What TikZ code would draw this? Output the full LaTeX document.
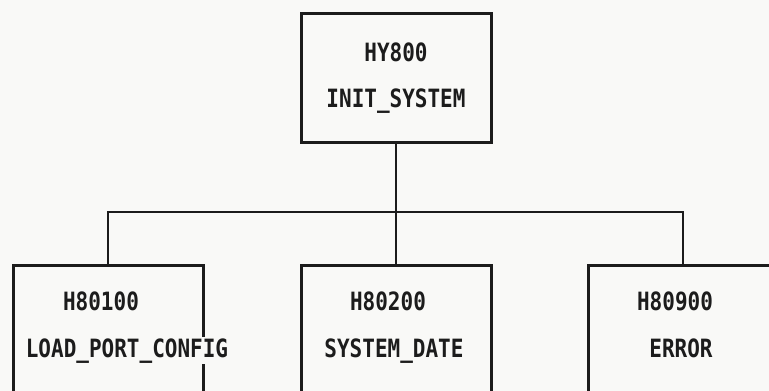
\documentclass[tikz,border=0pt]{standalone}
\usepackage{fontspec}
\newfontfamily\dotfont{DejaVu Sans Mono}
\usetikzlibrary{positioning}
\definecolor{paper}{RGB}{249,249,247}
\definecolor{ink}{RGB}{28,28,28}
\newcommand{\tallcode}[1]{\scalebox{1}[1.2]{#1}}
\tikzset{
  modbox/.style={rectangle, draw=ink, line width=3pt, minimum width=190pt,
                 minimum height=129pt, inner sep=0pt},
  code/.style={font=\dotfont\bfseries\fontsize{21}{21}\selectfont, text=ink,
               fill=paper, inner sep=1.5pt, anchor=base},
  wire/.style={draw=ink, line width=1.3pt},
}

\begin{document}
\begin{tikzpicture}[x=1pt, y=-1pt]
  \useasboundingbox (0,0) rectangle (769,391);
  \clip (0,0) rectangle (769,391);
  \fill[paper] (0,0) rectangle (769,391);
  \node[modbox] (init) at (396,78) {};
  \node[modbox] (port) at (108,330) {};
  \node[modbox] (date) at (396,330) {};
  \node[modbox] (err)  at (683,330) {};
  \coordinate (bus) at (396,212);
  \draw[wire] (init.south) -- (date.north);
  \draw[wire] (port.north) |- (bus) -| (err.north);
  \node[code] (initId)  at (396,61)  {\tallcode{HY800}};
  \node[code] (initNm)  at (396,107) {\tallcode{INIT\_SYSTEM}};
  \node[code] (portId)  at (101,310) {\tallcode{H80100}};
  \node[code] (portNm)  at (127,357) {\tallcode{LOAD\_PORT\_CONFIG}};
  \node[code] (dateId)  at (388,310) {\tallcode{H80200}};
  \node[code] (dateNm)  at (394,357) {\tallcode{SYSTEM\_DATE}};
  \node[code] (errId)   at (675,310) {\tallcode{H80900}};
  \node[code] (errNm)   at (681,357) {\tallcode{ERROR}};
\end{tikzpicture}
\end{document}
